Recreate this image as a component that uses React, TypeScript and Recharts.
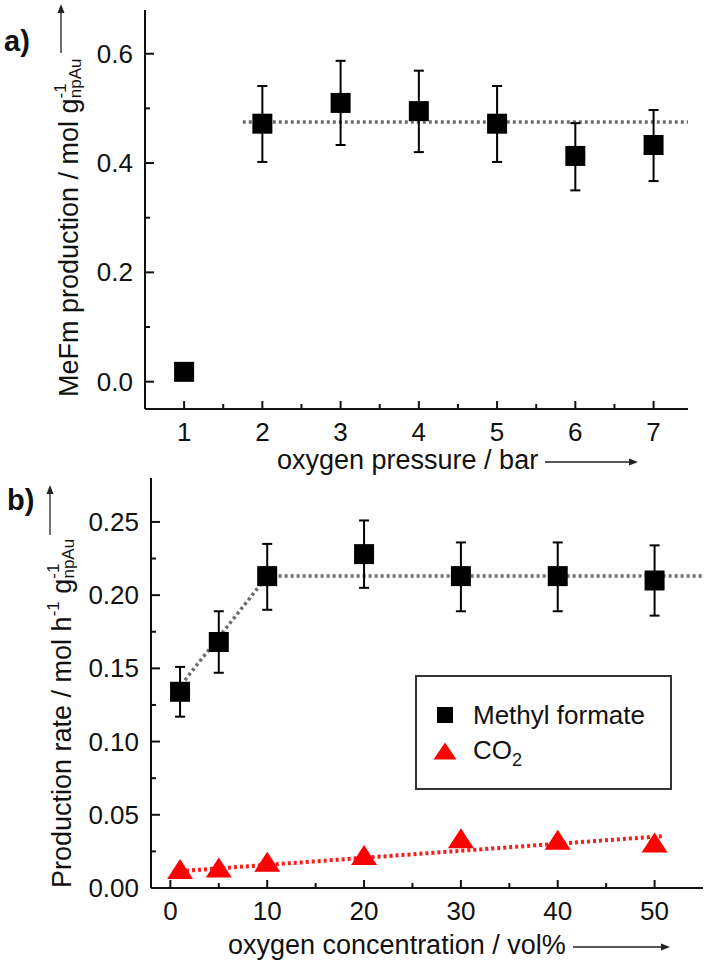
import React from "react"
import { ComposedChart, Scatter, Line, XAxis, YAxis, ErrorBar, Legend } from "recharts"

const FONT = "'Liberation Sans', Arial, Helvetica, Roboto, sans-serif"
const INK = "#111"

// a) MeFm production vs oxygen pressure
const pressureBar = [1, 2, 3, 4, 5, 6, 7]
const mefmProduction = [0.018, 0.472, 0.51, 0.495, 0.472, 0.413, 0.433]
const mefmUpper = [0.018, 0.541, 0.587, 0.569, 0.541, 0.473, 0.497]
const mefmLower = [0.018, 0.402, 0.433, 0.42, 0.402, 0.35, 0.367]
const pressureFitX = [1.75, 7.44]
const pressureFitY = [0.475, 0.475]
const pressureTicks = [1, 2, 3, 4, 5, 6, 7]
const pressureMinorTicks = [1.5, 2.5, 3.5, 4.5, 5.5, 6.5]
const productionTicks = [0, 0.2, 0.4, 0.6]
const productionMinorTicks = [0.1, 0.3, 0.5]

// b) production rate vs oxygen concentration
const o2Conc = [1, 5, 10, 20, 30, 40, 50]
const methylFormateRate = [0.134, 0.168, 0.213, 0.228, 0.213, 0.213, 0.21]
const methylFormateUpper = [0.151, 0.189, 0.235, 0.251, 0.236, 0.236, 0.234]
const methylFormateLower = [0.117, 0.147, 0.19, 0.205, 0.189, 0.189, 0.186]
const co2Rate = [0.013, 0.014, 0.018, 0.0225, 0.034, 0.033, 0.031]
const mfFitX = [1.5, 10, 55]
const mfFitY = [0.142, 0.213, 0.213]
const co2FitX = [1, 51]
const co2FitY = [0.0115, 0.0355]
const concTicks = [0, 10, 20, 30, 40, 50]
const concMinorTicks = [5, 15, 25, 35, 45]
const rateTicks = [0, 0.05, 0.1, 0.15, 0.2, 0.25]
const rateMinorTicks = [0.025, 0.075, 0.125, 0.175, 0.225]
const legendOrder = ["Methyl formate", "CO2"]

const withErr = (xs: number[], ys: number[], lo: number[], hi: number[]) =>
  xs.map((x, i) => ({ x, y: ys[i], err: [ys[i] - lo[i], hi[i] - ys[i]] }))
const pairs = (xs: number[], ys: number[]) => xs.map((x, i) => ({ x, y: ys[i] }))

const pressureRows = withErr(pressureBar, mefmProduction, mefmLower, mefmUpper)
const pressureFit = pairs(pressureFitX, pressureFitY)
const mfRows = withErr(o2Conc, methylFormateRate, methylFormateLower, methylFormateUpper)
const co2Rows = pairs(o2Conc, co2Rate)
const mfFit = pairs(mfFitX, mfFitY)
const co2Fit = pairs(co2FitX, co2FitY)

const near = (v: number, list: number[]) => list.some((t) => Math.abs(t - v) < 1e-9)

function makeYTick(major: number[], digits: number) {
  return (props: any) => {
    const { x, y, payload } = props
    const isMajor = near(payload.value, major)
    return (
      <g>
        <line x1={x} x2={x + (isMajor ? 9 : 5)} y1={y} y2={y} stroke={INK} strokeWidth={2} />
        {isMajor && (
          <text x={x - 12} y={y} dy={9} textAnchor="end" fontSize={26} fontFamily={FONT} fill={INK}>
            {payload.value.toFixed(digits)}
          </text>
        )}
      </g>
    )
  }
}

function makeXTick(major: number[], gap: number) {
  return (props: any) => {
    const { x, y, payload } = props
    const isMajor = near(payload.value, major)
    return (
      <g>
        <line x1={x} x2={x} y1={y} y2={y - (isMajor ? 8 : 5)} stroke={INK} strokeWidth={2} />
        {isMajor && (
          <text x={x} y={y + gap} textAnchor="middle" fontSize={26} fontFamily={FONT} fill={INK}>
            {payload.value}
          </text>
        )}
      </g>
    )
  }
}

const SquareMark = (props: any) => (
  <rect x={props.cx - 10} y={props.cy - 10} width={20} height={20} fill="#000" />
)
const TriangleMark = (props: any) => {
  const { cx, cy } = props
  return <polygon points={`${cx},${cy - 10} ${cx + 13},${cy + 10} ${cx - 13},${cy + 10}`} fill="#ff0000" />
}

const Arrow = ({ x1, y1, x2, y2 }: { x1: number; y1: number; x2: number; y2: number }) => {
  const vertical = x1 === x2
  const head = vertical
    ? `${x2},${y2 - 5} ${x2 - 3.5},${y2 + 4} ${x2 + 3.5},${y2 + 4}`
    : `${x2 + 5},${y2} ${x2 - 4},${y2 - 3.5} ${x2 - 4},${y2 + 3.5}`
  return (
    <g>
      <line x1={x1} y1={y1} x2={x2} y2={y2} stroke="#222" strokeWidth={1.3} />
      <polygon points={head} fill="#222" />
    </g>
  )
}

const PressureYLabel = () => (
  <g fontFamily={FONT} fill={INK}>
    <text x={4} y={51} fontSize={29} fontWeight="bold">a)</text>
    <Arrow x1={61} y1={53} x2={61} y2={9} />
    <text transform="translate(78 397) rotate(-90)" fontSize={27}>
      MeFm production / mol g
      <tspan fontSize={17} dy={-12}>-1</tspan>
      <tspan fontSize={17} dx={-15} dy={15}>npAu</tspan>
    </text>
  </g>
)

const PressureXLabel = () => (
  <g fontFamily={FONT} fill={INK}>
    <text x={277} y={469} fontSize={27}>oxygen pressure / bar</text>
    <Arrow x1={545} y1={462} x2={633} y2={462} />
  </g>
)

const RateYLabel = () => (
  <g fontFamily={FONT} fill={INK}>
    <text x={7} y={35} fontSize={29} fontWeight="bold">b)</text>
    <Arrow x1={50} y1={60} x2={50} y2={15} />
    <text transform="translate(71 413) rotate(-90)" fontSize={27}>
      Production rate / mol h
      <tspan fontSize={17} dy={-12}>-1</tspan>
      <tspan dy={12}> g</tspan>
      <tspan fontSize={17} dy={-12}>-1</tspan>
      <tspan fontSize={17} dx={-15} dy={15}>npAu</tspan>
    </text>
  </g>
)

const RateXLabel = () => (
  <g fontFamily={FONT} fill={INK}>
    <text x={228} y={479} fontSize={27}>oxygen concentration / vol%</text>
    <Arrow x1={573} y1={472} x2={665} y2={472} />
  </g>
)

const legendName = (name: string) =>
  name === "CO2" ? (
    <span>
      CO<span style={{ fontSize: 18, position: "relative", top: 7 }}>2</span>
    </span>
  ) : (
    <span>{name}</span>
  )

const LegendBox = (props: any) => {
  const items = (props.payload ?? [])
    .filter((p: any) => p.type !== "none")
    .sort((a: any, b: any) => legendOrder.indexOf(a.value) - legendOrder.indexOf(b.value))
  return (
    <div
      style={{
        width: 257,
        height: 115,
        boxSizing: "border-box",
        border: "2px solid #333",
        paddingTop: 20,
        fontFamily: FONT,
        fontSize: 26,
        color: INK,
      }}
    >
      {items.map((entry: any) => (
        <div key={entry.value} style={{ display: "flex", alignItems: "center", height: 36 }}>
          <svg width={56} height={36}>
            {entry.type === "triangle" ? (
              <polygon points="28,9.5 39.5,26.5 16.5,26.5" fill={entry.color} />
            ) : (
              <rect x={20} y={10} width={16} height={16} fill={entry.color} />
            )}
          </svg>
          <span style={{ lineHeight: "36px" }}>{legendName(entry.value)}</span>
        </div>
      ))}
    </div>
  )
}

const axisLine = { stroke: INK, strokeWidth: 2 }

export default function App() {
  return (
    <div style={{ position: "absolute", left: 0, top: 0, width: 712, height: 961, background: "#fff" }}>
      <div style={{ position: "absolute", left: 0, top: 0 }}>
        <ComposedChart width={712} height={475} margin={{ top: 10, right: 24, bottom: 26, left: 85 }}>
          <XAxis
            type="number"
            dataKey="x"
            domain={[0.5, 7.44]}
            allowDataOverflow
            ticks={[...pressureTicks, ...pressureMinorTicks]}
            interval={0}
            tick={makeXTick(pressureTicks, 32)}
            tickLine={false}
            tickSize={0}
            tickMargin={0}
            axisLine={axisLine}
            height={40}
            label={PressureXLabel}
          />
          <YAxis
            type="number"
            dataKey="y"
            domain={[-0.05, 0.68]}
            allowDataOverflow
            ticks={[...productionTicks, ...productionMinorTicks]}
            interval={0}
            tick={makeYTick(productionTicks, 1)}
            tickLine={false}
            tickSize={0}
            tickMargin={0}
            axisLine={axisLine}
            width={60}
            label={PressureYLabel}
          />
          <Line
            data={pressureFit}
            dataKey="y"
            type="linear"
            stroke="#6e6e6e"
            strokeWidth={3.5}
            strokeDasharray="3 3"
            dot={false}
            activeDot={false}
            legendType="none"
            isAnimationActive={false}
          />
          <Scatter
            data={pressureRows}
            dataKey="y"
            name="MeFm"
            fill="#000"
            shape={SquareMark}
            isAnimationActive={false}
          >
            <ErrorBar dataKey="err" direction="y" width={5} stroke="#000" strokeWidth={2} isAnimationActive={false} />
          </Scatter>
        </ComposedChart>
      </div>

      <div style={{ position: "absolute", left: 0, top: 475 }}>
        <ComposedChart width={712} height={486} margin={{ top: 3, right: 9, bottom: 33, left: 91 }}>
          <XAxis
            type="number"
            dataKey="x"
            domain={[-2, 55]}
            allowDataOverflow
            ticks={[...concTicks, ...concMinorTicks]}
            interval={0}
            tick={makeXTick(concTicks, 32)}
            tickLine={false}
            tickSize={0}
            tickMargin={0}
            axisLine={axisLine}
            height={40}
            label={RateXLabel}
          />
          <YAxis
            type="number"
            dataKey="y"
            domain={[0, 0.28]}
            allowDataOverflow
            ticks={[...rateTicks, ...rateMinorTicks]}
            interval={0}
            tick={makeYTick(rateTicks, 2)}
            tickLine={false}
            tickSize={0}
            tickMargin={0}
            axisLine={axisLine}
            width={60}
            label={RateYLabel}
          />
          <Line
            data={mfFit}
            dataKey="y"
            type="linear"
            stroke="#6e6e6e"
            strokeWidth={3.5}
            strokeDasharray="3 3"
            dot={false}
            activeDot={false}
            legendType="none"
            isAnimationActive={false}
          />
          <Line
            data={co2Fit}
            dataKey="y"
            type="linear"
            stroke="#ff1a1a"
            strokeWidth={4}
            strokeDasharray="3 3"
            dot={false}
            activeDot={false}
            legendType="none"
            isAnimationActive={false}
          />
          <Scatter
            data={mfRows}
            dataKey="y"
            name="Methyl formate"
            fill="#000"
            legendType="square"
            shape={SquareMark}
            isAnimationActive={false}
          >
            <ErrorBar dataKey="err" direction="y" width={5} stroke="#000" strokeWidth={2} isAnimationActive={false} />
          </Scatter>
          <Scatter
            data={co2Rows}
            dataKey="y"
            name="CO2"
            fill="#ff0000"
            legendType="triangle"
            shape={TriangleMark}
            isAnimationActive={false}
          />
          <Legend
            layout="vertical"
            align="center"
            verticalAlign="middle"
            content={LegendBox}
            wrapperStyle={{ left: 415, top: 200, width: 257, height: 115 }}
          />
        </ComposedChart>
      </div>
    </div>
  )
}
